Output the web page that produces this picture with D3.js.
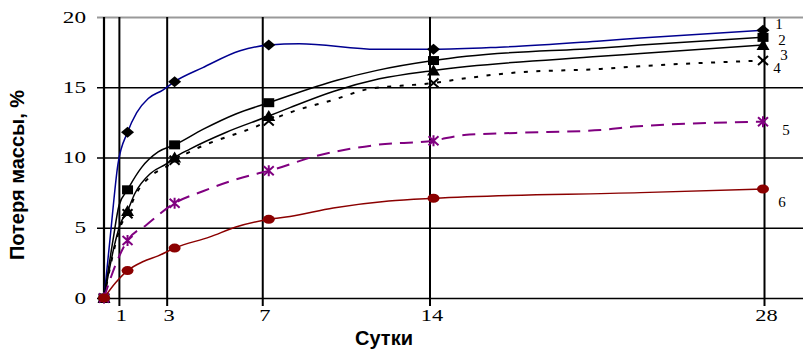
<!DOCTYPE html>
<html>
  <head>
    <meta charset="utf-8" />
    <title>Потеря массы</title>
    <script src="https://d3js.org/d3.v7.min.js"></script>
    <style>
      body { margin: 0; background: #fff; }
      .num { font-family: "Liberation Serif", "Times New Roman", serif; font-size: 16px; fill: #000; }
      .lbl { font-family: "Liberation Serif", "Times New Roman", serif; font-size: 15px; fill: #000; }
      .title { font-family: "Liberation Sans", Arial, sans-serif; font-size: 20px; font-weight: bold; fill: #000; }
    </style>
  </head>
  <body>
    <svg id="chart"></svg>
    <script>
      // days with markers
      var days = [0, 1, 3, 7, 14, 28];
      var dayTicks = [1, 3, 7, 14, 28];
      var lossTicks = [0, 5, 10, 15, 20];
      var seriesNames = ["1", "2", "3", "4", "5", "6"];

      // marker values, %
      var loss1 = [0, 11.8, 15.4, 18.0, 17.7, 19.05];
      var loss2 = [0, 7.7, 10.9, 13.9, 16.9, 18.55];
      var loss3 = [0, 6.2, 10.0, 12.95, 16.2, 18.0];
      var loss4 = [0, 6.0, 9.8, 12.6, 15.3, 16.9];
      var loss5 = [0, 4.1, 6.75, 9.05, 11.2, 12.55];
      var loss6 = [0, 1.95, 3.55, 5.6, 7.1, 7.76];

      // curve points [day, %]
      var curve1 = [[0,0],[0.25,4.1],[0.59,9.5],[1,11.8],[1.39,13.2],[1.88,14.2],[2.5,14.8],[3,15.4],[4.2,16.4],[5.78,17.6],[7,18.0],[8.3,18.1],[11.6,17.7],[14,17.7],[16.8,17.85],[21.1,18.3],[22.8,18.5],[28,19.05]];
      var curve2 = [[0,0],[0.38,4.1],[0.64,6.6],[1,7.7],[1.1,8.0],[1.6,9.3],[2.3,10.4],[3,10.9],[4.2,12.0],[5.6,13.1],[7,13.9],[9.9,15.5],[11.6,16.2],[14,16.9],[15.4,17.2],[21.1,17.8],[22.8,18.0],[28,18.55]];
      var curve3 = [[0,0],[0.45,3.8],[0.7,5.3],[1,6.2],[1.3,7.4],[2,8.9],[2.7,9.6],[3,10],[3.65,10.6],[5.2,11.8],[7,12.95],[7.9,13.55],[9.74,14.7],[11.7,15.6],[14,16.2],[21.1,17.2],[22.8,17.4],[28,18.0]];
      var curve4 = [[0,0],[0.45,3.6],[0.7,5.1],[1,6.0],[1.3,7.2],[2,8.7],[2.7,9.4],[3,9.8],[3.9,10.6],[6.6,12.3],[7,12.6],[7.9,13.2],[9.74,14.1],[11.3,14.9],[12.6,15.1],[14,15.3],[15,15.55],[17.5,16.05],[21.1,16.3],[22.8,16.5],[28,16.9]];
      var curve5 = [[0,0],[0.5,2.4],[1,4.1],[1.8,5.2],[3,6.75],[4.2,7.6],[5.35,8.3],[6.5,8.85],[7,9.05],[9,10.1],[11.6,10.9],[14,11.2],[15.3,11.6],[17.5,11.75],[21.1,11.95],[22.5,12.2],[28,12.55]];
      var curve6 = [[0,0],[0.5,1.1],[1,1.95],[1.67,2.6],[2.3,3.0],[3,3.55],[4.5,4.35],[5.6,5.05],[7,5.6],[7.9,5.8],[9.74,6.4],[12.1,6.9],[14,7.1],[22.8,7.5],[28,7.76]];

      var width = 803, height = 351;

      var svg = d3.select("#chart")
        .attr("width", width)
        .attr("height", height);

      var x = d3.scaleLinear().domain([0, 28]).range([104, 763]);
      // the vertical guides sit a little off the data positions in the original
      var xGrid = d3.scaleLinear().domain([0, 28]).range([95, 764]);
      var y = d3.scaleLinear().domain([0, 20]).range([298, 17]);

      // horizontal grid + y labels
      var gy = svg.append("g")
        .attr("transform", "translate(97,0)")
        .call(d3.axisLeft(y).tickValues(lossTicks).tickSize(-(width - 97)).tickPadding(0));
      gy.select(".domain").remove();
      gy.selectAll(".tick line")
        .attr("stroke", function(d) { return d === 20 ? "#999" : "#000"; })
        .attr("stroke-width", function(d) { return d === 20 ? 2.2 : 1.6; });
      gy.selectAll(".tick text")
        .attr("class", "num")
        .attr("x", 0)
        .attr("font-size", null).attr("font-family", null)
        .attr("transform", "translate(-11,0) scale(1.45,1)");

      // vertical guides + x labels
      var gx = svg.append("g")
        .attr("transform", "translate(0," + y(0) + ")")
        .call(d3.axisBottom(xGrid).tickValues(dayTicks).tickSize(8).tickPadding(4));
      gx.select(".domain").remove();
      gx.selectAll(".tick line")
        .attr("y1", y(20) - y(0))
        .attr("stroke", "#000")
        .attr("stroke-width", 2);
      gx.selectAll(".tick text")
        .attr("class", "num")
        .attr("font-size", null).attr("font-family", null)
        .attr("transform", "translate(2,0) scale(1.4,1)");

      // y axis line
      svg.append("line")
        .attr("x1", x(0)).attr("x2", x(0))
        .attr("y1", y(20)).attr("y2", y(0) + 1)
        .attr("stroke", "#000").attr("stroke-width", 2.2);

      var series = [
        { name: seriesNames[0], values: loss1, curve: curve1, color: "#000090", width: 1.5, dash: null, marker: "diamond", fill: "#000" },
        { name: seriesNames[1], values: loss2, curve: curve2, color: "#000", width: 1.5, dash: null, marker: "square", fill: "#000" },
        { name: seriesNames[2], values: loss3, curve: curve3, color: "#000", width: 1.5, dash: null, marker: "triangle", fill: "#000" },
        { name: seriesNames[3], values: loss4, curve: curve4, color: "#000", width: 2, dash: "4,8.5", marker: "x", fill: "#000" },
        { name: seriesNames[4], values: loss5, curve: curve5, color: "#800080", width: 2, dash: "13,8", marker: "star", fill: "#800080" },
        { name: seriesNames[5], values: loss6, curve: curve6, color: "#8b0000", width: 1.5, dash: null, marker: "circle", fill: "#8b0000" }
      ];
      var labelOffsets = [[16, -7], [19, 2], [21, 10], [14, 7], [23, 8], [19, 13]];

      var line = d3.line()
        .x(function(d) { return x(d[0]); })
        .y(function(d) { return y(d[1]); })
        .curve(d3.curveMonotoneX);

      var shapes = {
        diamond: "M0,-5.5L6.5,0L0,5.5L-6.5,0Z",
        square: "M-5.5,-4.5H5.5V4.5H-5.5Z",
        triangle: "M0,-6L6.5,5H-6.5Z",
        x: "M-5,-4.5L5,4.5M-5,4.5L5,-4.5",
        star: "M-5,-4.5L5,4.5M-5,4.5L5,-4.5M0,-5.5V5.5",
        circle: "M-6,0A6,4.5 0 1,0 6,0A6,4.5 0 1,0 -6,0Z"
      };

      series.forEach(function(s, i) {
        svg.append("path")
          .attr("d", line(s.curve))
          .attr("fill", "none")
          .attr("stroke", s.color)
          .attr("stroke-width", s.width)
          .attr("stroke-dasharray", s.dash);

        var open = s.marker === "x" || s.marker === "star";
        svg.selectAll(".m" + i)
          .data(days.map(function(d, j) { return [d, s.values[j]]; }))
          .enter().append("path")
          .attr("class", "m" + i)
          .attr("transform", function(d) { return "translate(" + x(d[0]) + "," + y(d[1]) + ")"; })
          .attr("d", shapes[s.marker])
          .attr("fill", open ? "none" : s.fill)
          .attr("stroke", open ? s.fill : "none")
          .attr("stroke-width", 2);

        var last = s.values[s.values.length - 1];
        svg.append("text")
          .attr("class", "lbl")
          .attr("x", x(28) + labelOffsets[i][0])
          .attr("y", y(last) + labelOffsets[i][1])
          .attr("dy", "0.35em")
          .attr("text-anchor", "middle")
          .text(s.name);
      });

      // axis titles
      svg.append("text")
        .attr("class", "title")
        .attr("transform", "translate(24,175) rotate(-90)")
        .attr("text-anchor", "middle")
        .text("Потеря массы, %");

      svg.append("text")
        .attr("class", "title")
        .attr("x", 384)
        .attr("y", 345)
        .attr("text-anchor", "middle")
        .text("Сутки");
    </script>
  </body>
</html>
